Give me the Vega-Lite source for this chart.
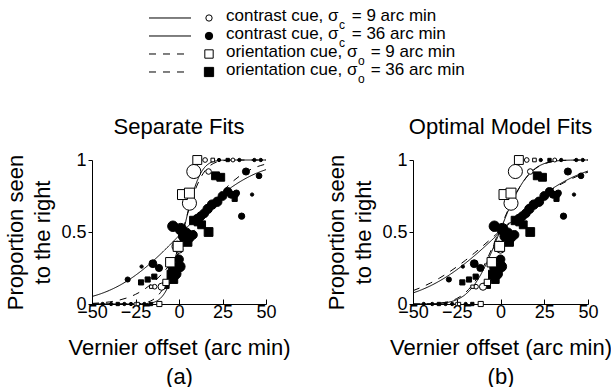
{
  "$schema": "https://vega.github.io/schema/vega-lite/v6.json",
  "padding": {"left": 4, "top": 0, "right": 0, "bottom": 0},
  "background": "white",
  "config": {
    "font": "Liberation Sans",
    "view": {"stroke": null},
    "axis": {"grid": false, "domainColor": "black", "domainWidth": 1, "tickColor": "black", "tickWidth": 1, "labelColor": "black", "titleColor": "black", "labelFontSize": 18, "titleFontSize": 22, "titleFontWeight": "normal", "labelFont": "Liberation Sans", "titleFont": "Liberation Sans"},
    "axisX": {"tickSize": -5, "labelPadding": 4, "titlePadding": 16, "titleLineHeight": 29, "labelFlush": false},
    "axisY": {"tickSize": 4, "labelPadding": 2, "titlePadding": 6, "titleLineHeight": 27, "labelFlush": false},
    "title": {"fontSize": 22, "fontWeight": "normal", "color": "black", "font": "Liberation Sans", "anchor": "middle", "offset": 12}
  },
  "datasets": {
    "legend": [
      {"row": 1, "cond": "c9", "cat": "contrast", "label": "contrast cue, σ\u2002 = 9 arc min", "sub": "c"},
      {"row": 2, "cond": "c36", "cat": "contrast", "label": "contrast cue, σ\u2002 = 36 arc min", "sub": "c"},
      {"row": 3, "cond": "o9", "cat": "orientation", "label": "orientation cue, σ\u2002 = 9 arc min", "sub": "o"},
      {"row": 4, "cond": "o36", "cat": "orientation", "label": "orientation cue, σ\u2002 = 36 arc min", "sub": "o"}
    ],
    "pts": [
      {"cond": "c36", "x": -3.5, "y": 0.54, "n": 5},
      {"cond": "c36", "x": 1, "y": 0.52, "n": 6},
      {"cond": "c36", "x": 4, "y": 0.49, "n": 5.5},
      {"cond": "c36", "x": 2.5, "y": 0.47, "n": 4.5},
      {"cond": "c36", "x": 6, "y": 0.46, "n": 4},
      {"cond": "c36", "x": 8, "y": 0.48, "n": 3.5},
      {"cond": "c36", "x": 10.5, "y": 0.59, "n": 4},
      {"cond": "c36", "x": 12.5, "y": 0.61, "n": 3.5},
      {"cond": "c36", "x": 14.5, "y": 0.63, "n": 3.5},
      {"cond": "c36", "x": 16.5, "y": 0.66, "n": 4},
      {"cond": "c36", "x": 19, "y": 0.69, "n": 4},
      {"cond": "c36", "x": 22, "y": 0.71, "n": 4},
      {"cond": "c36", "x": 25, "y": 0.75, "n": 3.5},
      {"cond": "c36", "x": 28, "y": 0.78, "n": 3},
      {"cond": "c36", "x": 30, "y": 0.76, "n": 2.5},
      {"cond": "c36", "x": 33, "y": 0.77, "n": 1.8},
      {"cond": "c36", "x": 38.5, "y": 0.92, "n": 2.3},
      {"cond": "c36", "x": 46, "y": 0.89, "n": 1.5},
      {"cond": "c36", "x": 36, "y": 0.61, "n": 1.8},
      {"cond": "c36", "x": 42, "y": 0.76, "n": 0.5},
      {"cond": "c36", "x": -15, "y": 0.28, "n": 2.8},
      {"cond": "c36", "x": -11.5, "y": 0.25, "n": 2.3},
      {"cond": "c36", "x": -21.5, "y": 0.26, "n": 0.5},
      {"cond": "c36", "x": -29.5, "y": 0.17, "n": 1.2},
      {"cond": "c36", "x": -3, "y": 0.25, "n": 5.5},
      {"cond": "c36", "x": -2, "y": 0.21, "n": 5.5},
      {"cond": "c36", "x": 0.5, "y": 0.26, "n": 5},
      {"cond": "c36", "x": 0, "y": 0.31, "n": 3.5},
      {"cond": "c36", "x": -43.9, "y": 0, "n": 0.5},
      {"cond": "c36", "x": -39, "y": 0, "n": 0.5},
      {"cond": "c36", "x": -31.4, "y": 0, "n": 0.5},
      {"cond": "c36", "x": -27.6, "y": 0, "n": 0.5},
      {"cond": "c36", "x": -19.9, "y": 0, "n": 0.5},
      {"cond": "c36", "x": 23, "y": 1, "n": 0.5},
      {"cond": "c36", "x": 34.7, "y": 1, "n": 0.5},
      {"cond": "c36", "x": 43.3, "y": 1, "n": 0.5},
      {"cond": "c36", "x": 47, "y": 1, "n": 0.5},
      {"cond": "o36", "x": 21, "y": 0.89, "n": 2.8},
      {"cond": "o36", "x": 24, "y": 0.88, "n": 2.8},
      {"cond": "o36", "x": 8.5, "y": 0.58, "n": 3.2},
      {"cond": "o36", "x": 11, "y": 0.57, "n": 2.8},
      {"cond": "o36", "x": 13, "y": 0.55, "n": 2.8},
      {"cond": "o36", "x": 17, "y": 0.5, "n": 3.5},
      {"cond": "o36", "x": 3.5, "y": 0.45, "n": 3.5},
      {"cond": "o36", "x": 5, "y": 0.43, "n": 3.2},
      {"cond": "o36", "x": 32, "y": 0.73, "n": 1.2},
      {"cond": "o36", "x": 32.5, "y": 0.76, "n": 1},
      {"cond": "o36", "x": -14.2, "y": 0.19, "n": 1.2},
      {"cond": "o36", "x": -18, "y": 0.17, "n": 1.2},
      {"cond": "o36", "x": -21.8, "y": 0.15, "n": 1.2},
      {"cond": "o36", "x": -7.5, "y": 0.13, "n": 1.8},
      {"cond": "o36", "x": -4, "y": 0.2, "n": 4.5},
      {"cond": "o36", "x": -3, "y": 0.17, "n": 2.8},
      {"cond": "o36", "x": -35.2, "y": 0, "n": 0.5},
      {"cond": "o36", "x": -16.1, "y": 0, "n": 0.5},
      {"cond": "o36", "x": 28, "y": 1, "n": 0.5},
      {"cond": "c9", "x": -14, "y": 0.12, "n": 1},
      {"cond": "c9", "x": -10, "y": 0.12, "n": 2.3},
      {"cond": "c9", "x": -1, "y": 0.4, "n": 5},
      {"cond": "c9", "x": 6, "y": 0.7, "n": 9},
      {"cond": "c9", "x": 8.5, "y": 0.92, "n": 9},
      {"cond": "c9", "x": 17, "y": 0.92, "n": 1.4},
      {"cond": "c9", "x": 15, "y": 1, "n": 1},
      {"cond": "c9", "x": 31, "y": 1, "n": 0.7},
      {"cond": "c9", "x": -25, "y": 0, "n": 0.5},
      {"cond": "c9", "x": 0, "y": 0.38, "n": 2.8},
      {"cond": "o9", "x": 10.5, "y": 1, "n": 3.6},
      {"cond": "o9", "x": 19.4, "y": 1, "n": 0.6},
      {"cond": "o9", "x": 2, "y": 0.76, "n": 4.5},
      {"cond": "o9", "x": 6, "y": 0.77, "n": 4.5},
      {"cond": "o9", "x": -0.5, "y": 0.4, "n": 4.5},
      {"cond": "o9", "x": -5, "y": 0.29, "n": 4},
      {"cond": "o9", "x": -7.5, "y": 0.15, "n": 1.8},
      {"cond": "o9", "x": -11.3, "y": 0, "n": 1.2},
      {"cond": "o9", "x": -16, "y": 0.12, "n": 0.5},
      {"cond": "o9", "x": -23.7, "y": 0, "n": 0.5}
    ],
    "curves": [
      {"panel": "a", "cond": "c9", "x": -50, "y": 0},
      {"panel": "a", "cond": "c9", "x": -25, "y": 0.0001},
      {"panel": "a", "cond": "c9", "x": -20, "y": 0.0013},
      {"panel": "a", "cond": "c9", "x": -17.5, "y": 0.0038},
      {"panel": "a", "cond": "c9", "x": -15, "y": 0.0098},
      {"panel": "a", "cond": "c9", "x": -12.5, "y": 0.0228},
      {"panel": "a", "cond": "c9", "x": -10, "y": 0.0478},
      {"panel": "a", "cond": "c9", "x": -7.5, "y": 0.0912},
      {"panel": "a", "cond": "c9", "x": -5, "y": 0.1587},
      {"panel": "a", "cond": "c9", "x": -2.5, "y": 0.2525},
      {"panel": "a", "cond": "c9", "x": 0, "y": 0.3694},
      {"panel": "a", "cond": "c9", "x": 2.5, "y": 0.5},
      {"panel": "a", "cond": "c9", "x": 5, "y": 0.6306},
      {"panel": "a", "cond": "c9", "x": 7.5, "y": 0.7475},
      {"panel": "a", "cond": "c9", "x": 10, "y": 0.8413},
      {"panel": "a", "cond": "c9", "x": 12.5, "y": 0.9088},
      {"panel": "a", "cond": "c9", "x": 15, "y": 0.9522},
      {"panel": "a", "cond": "c9", "x": 17.5, "y": 0.9772},
      {"panel": "a", "cond": "c9", "x": 20, "y": 0.9902},
      {"panel": "a", "cond": "c9", "x": 25, "y": 0.9987},
      {"panel": "a", "cond": "c9", "x": 30, "y": 0.9999},
      {"panel": "a", "cond": "c9", "x": 50, "y": 1},
      {"panel": "a", "cond": "o9", "x": -50, "y": 0},
      {"panel": "a", "cond": "o9", "x": -30, "y": 0.0002},
      {"panel": "a", "cond": "o9", "x": -25, "y": 0.0013},
      {"panel": "a", "cond": "o9", "x": -20, "y": 0.0073},
      {"panel": "a", "cond": "o9", "x": -17.5, "y": 0.0151},
      {"panel": "a", "cond": "o9", "x": -15, "y": 0.0295},
      {"panel": "a", "cond": "o9", "x": -12.5, "y": 0.0536},
      {"panel": "a", "cond": "o9", "x": -10, "y": 0.0912},
      {"panel": "a", "cond": "o9", "x": -7.5, "y": 0.1456},
      {"panel": "a", "cond": "o9", "x": -5, "y": 0.2184},
      {"panel": "a", "cond": "o9", "x": -2.5, "y": 0.3085},
      {"panel": "a", "cond": "o9", "x": 0, "y": 0.4121},
      {"panel": "a", "cond": "o9", "x": 2.5, "y": 0.5222},
      {"panel": "a", "cond": "o9", "x": 5, "y": 0.6306},
      {"panel": "a", "cond": "o9", "x": 7.5, "y": 0.7295},
      {"panel": "a", "cond": "o9", "x": 10, "y": 0.813},
      {"panel": "a", "cond": "o9", "x": 12.5, "y": 0.8784},
      {"panel": "a", "cond": "o9", "x": 15, "y": 0.9257},
      {"panel": "a", "cond": "o9", "x": 17.5, "y": 0.9575},
      {"panel": "a", "cond": "o9", "x": 20, "y": 0.9772},
      {"panel": "a", "cond": "o9", "x": 25, "y": 0.9947},
      {"panel": "a", "cond": "o9", "x": 30, "y": 0.9991},
      {"panel": "a", "cond": "o9", "x": 50, "y": 1},
      {"panel": "a", "cond": "c36", "x": -50, "y": 0.0521},
      {"panel": "a", "cond": "c36", "x": -45, "y": 0.071},
      {"panel": "a", "cond": "c36", "x": -40, "y": 0.0947},
      {"panel": "a", "cond": "c36", "x": -35, "y": 0.1238},
      {"panel": "a", "cond": "c36", "x": -30, "y": 0.1587},
      {"panel": "a", "cond": "c36", "x": -25, "y": 0.1994},
      {"panel": "a", "cond": "c36", "x": -20, "y": 0.2459},
      {"panel": "a", "cond": "c36", "x": -15, "y": 0.2977},
      {"panel": "a", "cond": "c36", "x": -10, "y": 0.3538},
      {"panel": "a", "cond": "c36", "x": -5, "y": 0.4134},
      {"panel": "a", "cond": "c36", "x": 0, "y": 0.4751},
      {"panel": "a", "cond": "c36", "x": 5, "y": 0.5374},
      {"panel": "a", "cond": "c36", "x": 10, "y": 0.5987},
      {"panel": "a", "cond": "c36", "x": 15, "y": 0.6577},
      {"panel": "a", "cond": "c36", "x": 20, "y": 0.7131},
      {"panel": "a", "cond": "c36", "x": 25, "y": 0.7639},
      {"panel": "a", "cond": "c36", "x": 30, "y": 0.8092},
      {"panel": "a", "cond": "c36", "x": 35, "y": 0.8488},
      {"panel": "a", "cond": "c36", "x": 40, "y": 0.8825},
      {"panel": "a", "cond": "c36", "x": 45, "y": 0.9105},
      {"panel": "a", "cond": "c36", "x": 50, "y": 0.9332},
      {"panel": "a", "cond": "o36", "x": -50, "y": 0.0042},
      {"panel": "a", "cond": "o36", "x": -45, "y": 0.008},
      {"panel": "a", "cond": "o36", "x": -40, "y": 0.0146},
      {"panel": "a", "cond": "o36", "x": -35, "y": 0.0253},
      {"panel": "a", "cond": "o36", "x": -30, "y": 0.0421},
      {"panel": "a", "cond": "o36", "x": -25, "y": 0.0668},
      {"panel": "a", "cond": "o36", "x": -20, "y": 0.1016},
      {"panel": "a", "cond": "o36", "x": -15, "y": 0.148},
      {"panel": "a", "cond": "o36", "x": -10, "y": 0.2066},
      {"panel": "a", "cond": "o36", "x": -5, "y": 0.2773},
      {"panel": "a", "cond": "o36", "x": 0, "y": 0.358},
      {"panel": "a", "cond": "o36", "x": 5, "y": 0.4459},
      {"panel": "a", "cond": "o36", "x": 10, "y": 0.5362},
      {"panel": "a", "cond": "o36", "x": 15, "y": 0.6248},
      {"panel": "a", "cond": "o36", "x": 20, "y": 0.7072},
      {"panel": "a", "cond": "o36", "x": 25, "y": 0.7802},
      {"panel": "a", "cond": "o36", "x": 30, "y": 0.8413},
      {"panel": "a", "cond": "o36", "x": 35, "y": 0.8901},
      {"panel": "a", "cond": "o36", "x": 40, "y": 0.9271},
      {"panel": "a", "cond": "o36", "x": 45, "y": 0.9537},
      {"panel": "a", "cond": "o36", "x": 50, "y": 0.9719},
      {"panel": "b", "cond": "c9", "x": -50, "y": 0.0001},
      {"panel": "b", "cond": "c9", "x": -45, "y": 0.0003},
      {"panel": "b", "cond": "c9", "x": -40, "y": 0.0012},
      {"panel": "b", "cond": "c9", "x": -35, "y": 0.004},
      {"panel": "b", "cond": "c9", "x": -30, "y": 0.0116},
      {"panel": "b", "cond": "c9", "x": -25, "y": 0.03},
      {"panel": "b", "cond": "c9", "x": -20, "y": 0.0668},
      {"panel": "b", "cond": "c9", "x": -15, "y": 0.1324},
      {"panel": "b", "cond": "c9", "x": -10, "y": 0.2327},
      {"panel": "b", "cond": "c9", "x": -5, "y": 0.3647},
      {"panel": "b", "cond": "c9", "x": 0, "y": 0.5153},
      {"panel": "b", "cond": "c9", "x": 5, "y": 0.6638},
      {"panel": "b", "cond": "c9", "x": 10, "y": 0.7905},
      {"panel": "b", "cond": "c9", "x": 15, "y": 0.8834},
      {"panel": "b", "cond": "c9", "x": 20, "y": 0.9426},
      {"panel": "b", "cond": "c9", "x": 25, "y": 0.975},
      {"panel": "b", "cond": "c9", "x": 30, "y": 0.9905},
      {"panel": "b", "cond": "c9", "x": 35, "y": 0.9968},
      {"panel": "b", "cond": "c9", "x": 40, "y": 0.9991},
      {"panel": "b", "cond": "c9", "x": 45, "y": 0.9998},
      {"panel": "b", "cond": "c9", "x": 50, "y": 1},
      {"panel": "b", "cond": "o9", "x": -50, "y": 0.0001},
      {"panel": "b", "cond": "o9", "x": -45, "y": 0.0006},
      {"panel": "b", "cond": "o9", "x": -40, "y": 0.0019},
      {"panel": "b", "cond": "o9", "x": -35, "y": 0.0059},
      {"panel": "b", "cond": "o9", "x": -30, "y": 0.0159},
      {"panel": "b", "cond": "o9", "x": -25, "y": 0.0377},
      {"panel": "b", "cond": "o9", "x": -20, "y": 0.0797},
      {"panel": "b", "cond": "o9", "x": -15, "y": 0.1499},
      {"panel": "b", "cond": "o9", "x": -10, "y": 0.2525},
      {"panel": "b", "cond": "o9", "x": -5, "y": 0.3836},
      {"panel": "b", "cond": "o9", "x": 0, "y": 0.5295},
      {"panel": "b", "cond": "o9", "x": 5, "y": 0.6716},
      {"panel": "b", "cond": "o9", "x": 10, "y": 0.7925},
      {"panel": "b", "cond": "o9", "x": 15, "y": 0.882},
      {"panel": "b", "cond": "o9", "x": 20, "y": 0.9401},
      {"panel": "b", "cond": "o9", "x": 25, "y": 0.9729},
      {"panel": "b", "cond": "o9", "x": 30, "y": 0.9892},
      {"panel": "b", "cond": "o9", "x": 35, "y": 0.9962},
      {"panel": "b", "cond": "o9", "x": 40, "y": 0.9988},
      {"panel": "b", "cond": "o9", "x": 45, "y": 0.9997},
      {"panel": "b", "cond": "o9", "x": 50, "y": 1},
      {"panel": "b", "cond": "c36", "x": -50, "y": 0.0766},
      {"panel": "b", "cond": "c36", "x": -45, "y": 0.0993},
      {"panel": "b", "cond": "c36", "x": -40, "y": 0.1265},
      {"panel": "b", "cond": "c36", "x": -35, "y": 0.1587},
      {"panel": "b", "cond": "c36", "x": -30, "y": 0.1957},
      {"panel": "b", "cond": "c36", "x": -25, "y": 0.2376},
      {"panel": "b", "cond": "c36", "x": -20, "y": 0.2839},
      {"panel": "b", "cond": "c36", "x": -15, "y": 0.3341},
      {"panel": "b", "cond": "c36", "x": -10, "y": 0.3875},
      {"panel": "b", "cond": "c36", "x": -5, "y": 0.4432},
      {"panel": "b", "cond": "c36", "x": 0, "y": 0.5},
      {"panel": "b", "cond": "c36", "x": 5, "y": 0.5568},
      {"panel": "b", "cond": "c36", "x": 10, "y": 0.6125},
      {"panel": "b", "cond": "c36", "x": 15, "y": 0.6659},
      {"panel": "b", "cond": "c36", "x": 20, "y": 0.7161},
      {"panel": "b", "cond": "c36", "x": 25, "y": 0.7624},
      {"panel": "b", "cond": "c36", "x": 30, "y": 0.8043},
      {"panel": "b", "cond": "c36", "x": 35, "y": 0.8413},
      {"panel": "b", "cond": "c36", "x": 40, "y": 0.8735},
      {"panel": "b", "cond": "c36", "x": 45, "y": 0.9007},
      {"panel": "b", "cond": "c36", "x": 50, "y": 0.9234},
      {"panel": "b", "cond": "o36", "x": -50, "y": 0.0927},
      {"panel": "b", "cond": "o36", "x": -45, "y": 0.1172},
      {"panel": "b", "cond": "o36", "x": -40, "y": 0.1459},
      {"panel": "b", "cond": "o36", "x": -35, "y": 0.179},
      {"panel": "b", "cond": "o36", "x": -30, "y": 0.2166},
      {"panel": "b", "cond": "o36", "x": -25, "y": 0.2582},
      {"panel": "b", "cond": "o36", "x": -20, "y": 0.3037},
      {"panel": "b", "cond": "o36", "x": -15, "y": 0.3527},
      {"panel": "b", "cond": "o36", "x": -10, "y": 0.404},
      {"panel": "b", "cond": "o36", "x": -5, "y": 0.457},
      {"panel": "b", "cond": "o36", "x": 0, "y": 0.5108},
      {"panel": "b", "cond": "o36", "x": 5, "y": 0.5644},
      {"panel": "b", "cond": "o36", "x": 10, "y": 0.6168},
      {"panel": "b", "cond": "o36", "x": 15, "y": 0.6673},
      {"panel": "b", "cond": "o36", "x": 20, "y": 0.7149},
      {"panel": "b", "cond": "o36", "x": 25, "y": 0.7589},
      {"panel": "b", "cond": "o36", "x": 30, "y": 0.7989},
      {"panel": "b", "cond": "o36", "x": 35, "y": 0.8347},
      {"panel": "b", "cond": "o36", "x": 40, "y": 0.8661},
      {"panel": "b", "cond": "o36", "x": 45, "y": 0.8931},
      {"panel": "b", "cond": "o36", "x": 50, "y": 0.9159}
    ]
  },
  "spacing": 28,
  "vconcat": [
    {
      "width": 380,
      "height": 88,
      "data": {"name": "legend"},
      "encoding": {
        "y": {"field": "row", "type": "quantitative", "scale": {"domain": [0, 4.889], "reverse": true, "nice": false, "zero": false}, "axis": null}
      },
      "layer": [
        {
          "mark": {"type": "rule", "color": "black", "strokeWidth": 1},
          "encoding": {
            "x": {"datum": 57, "type": "quantitative", "scale": {"domain": [0, 380], "nice": false}, "axis": null},
            "x2": {"datum": 99},
            "strokeDash": {"field": "cond", "type": "nominal", "scale": {"domain": ["c9", "c36", "o9", "o36"], "range": [[1, 0], [1, 0], [7, 7], [7, 7]]}, "legend": null}
          }
        },
        {
          "mark": {"type": "point", "filled": true, "stroke": "black", "strokeWidth": 1, "opacity": 1},
          "encoding": {
            "x": {"datum": 117, "type": "quantitative"},
            "shape": {"field": "cond", "type": "nominal", "scale": {"domain": ["c9", "c36", "o9", "o36"], "range": ["circle", "circle", "square", "square"]}, "legend": null},
            "fill": {"field": "cond", "type": "nominal", "scale": {"domain": ["c9", "c36", "o9", "o36"], "range": ["white", "black", "white", "black"]}, "legend": null},
            "size": {"field": "cond", "type": "nominal", "scale": {"domain": ["c9", "c36", "o9", "o36"], "range": [40, 85, 25, 45]}, "legend": null}
          }
        },
        {
          "mark": {"type": "text", "align": "left", "baseline": "middle", "fontSize": 17, "color": "black", "dy": -2},
          "encoding": {
            "x": {"datum": 134, "type": "quantitative"},
            "text": {"field": "label"}
          }
        },
        {
          "transform": [{"filter": "datum.cat === 'contrast'"}],
          "mark": {"type": "text", "align": "left", "baseline": "middle", "fontSize": 12, "color": "black", "dy": 7},
          "encoding": {
            "x": {"datum": 247, "type": "quantitative"},
            "text": {"field": "sub"}
          }
        },
        {
          "transform": [{"filter": "datum.cat === 'orientation'"}],
          "mark": {"type": "text", "align": "left", "baseline": "middle", "fontSize": 12, "color": "black", "dy": 7},
          "encoding": {
            "x": {"datum": 266, "type": "quantitative"},
            "text": {"field": "sub"}
          }
        }
      ]
    },
    {
      "spacing": 34,
      "hconcat": [
        {
          "width": 174,
          "height": 144,
          "title": {"text": "Separate Fits"},
          "encoding": {
            "x": {"field": "x", "type": "quantitative", "scale": {"domain": [-50, 50], "nice": false, "zero": false}, "axis": {"values": [-50, -25, 0, 25, 50], "format": "d", "title": ["Vernier offset (arc min)", "(a)"]}},
            "y": {"field": "y", "type": "quantitative", "scale": {"domain": [0, 1], "nice": false}, "axis": {"values": [0, 0.5, 1], "format": "~g", "title": ["Proportion seen", "to the right"]}}
          },
          "layer": [
            {
              "data": {"name": "curves"},
              "transform": [{"filter": "datum.panel === 'a'"}],
              "mark": {"type": "line", "color": "black", "strokeWidth": 1, "interpolate": "monotone"},
              "encoding": {
                "strokeDash": {"field": "cond", "type": "nominal", "scale": {"domain": ["c9", "c36", "o9", "o36"], "range": [[1, 0], [1, 0], [6, 5], [6, 5]]}, "legend": null},
                "detail": {"field": "cond", "type": "nominal"}
              }
            },
            {
              "data": {"name": "pts"},
              "mark": {"type": "point", "filled": true, "stroke": "black", "strokeWidth": 1, "opacity": 1},
              "encoding": {
                "shape": {"field": "cond", "type": "nominal", "scale": {"domain": ["c9", "c36", "o9", "o36"], "range": ["circle", "circle", "square", "square"]}, "legend": null},
                "fill": {"field": "cond", "type": "nominal", "scale": {"domain": ["c9", "c36", "o9", "o36"], "range": ["white", "black", "white", "black"]}, "legend": null},
                "size": {"field": "n", "type": "quantitative", "scale": {"domain": [0, 10], "range": [0, 220]}, "legend": null}
              }
            },
            {
              "data": {"values": [{}]},
              "mark": {"type": "text", "fontSize": 17, "align": "left", "baseline": "middle", "color": "black"},
              "encoding": {"x": {"datum": -45}, "y": {"datum": 0.88}, "text": {"value": "MSL"}}
            }
          ]
        },
        {
          "width": 175,
          "height": 144,
          "title": {"text": "Optimal Model Fits"},
          "encoding": {
            "x": {"field": "x", "type": "quantitative", "scale": {"domain": [-50, 50], "nice": false, "zero": false}, "axis": {"values": [-50, -25, 0, 25, 50], "format": "d", "title": ["Vernier offset (arc min)", "(b)"]}},
            "y": {"field": "y", "type": "quantitative", "scale": {"domain": [0, 1], "nice": false}, "axis": {"values": [0, 0.5, 1], "format": "~g", "title": ["Proportion seen", "to the right"]}}
          },
          "layer": [
            {
              "data": {"name": "curves"},
              "transform": [{"filter": "datum.panel === 'b'"}],
              "mark": {"type": "line", "color": "black", "strokeWidth": 1, "interpolate": "monotone"},
              "encoding": {
                "strokeDash": {"field": "cond", "type": "nominal", "scale": {"domain": ["c9", "c36", "o9", "o36"], "range": [[1, 0], [1, 0], [6, 5], [6, 5]]}, "legend": null},
                "detail": {"field": "cond", "type": "nominal"}
              }
            },
            {
              "data": {"name": "pts"},
              "mark": {"type": "point", "filled": true, "stroke": "black", "strokeWidth": 1, "opacity": 1},
              "encoding": {
                "shape": {"field": "cond", "type": "nominal", "scale": {"domain": ["c9", "c36", "o9", "o36"], "range": ["circle", "circle", "square", "square"]}, "legend": null},
                "fill": {"field": "cond", "type": "nominal", "scale": {"domain": ["c9", "c36", "o9", "o36"], "range": ["white", "black", "white", "black"]}, "legend": null},
                "size": {"field": "n", "type": "quantitative", "scale": {"domain": [0, 10], "range": [0, 220]}, "legend": null}
              }
            },
            {
              "data": {"values": [{}]},
              "mark": {"type": "text", "fontSize": 17, "align": "left", "baseline": "middle", "color": "black"},
              "encoding": {"x": {"datum": -45}, "y": {"datum": 0.88}, "text": {"value": "MSL"}}
            }
          ]
        }
      ]
    }
  ]
}
